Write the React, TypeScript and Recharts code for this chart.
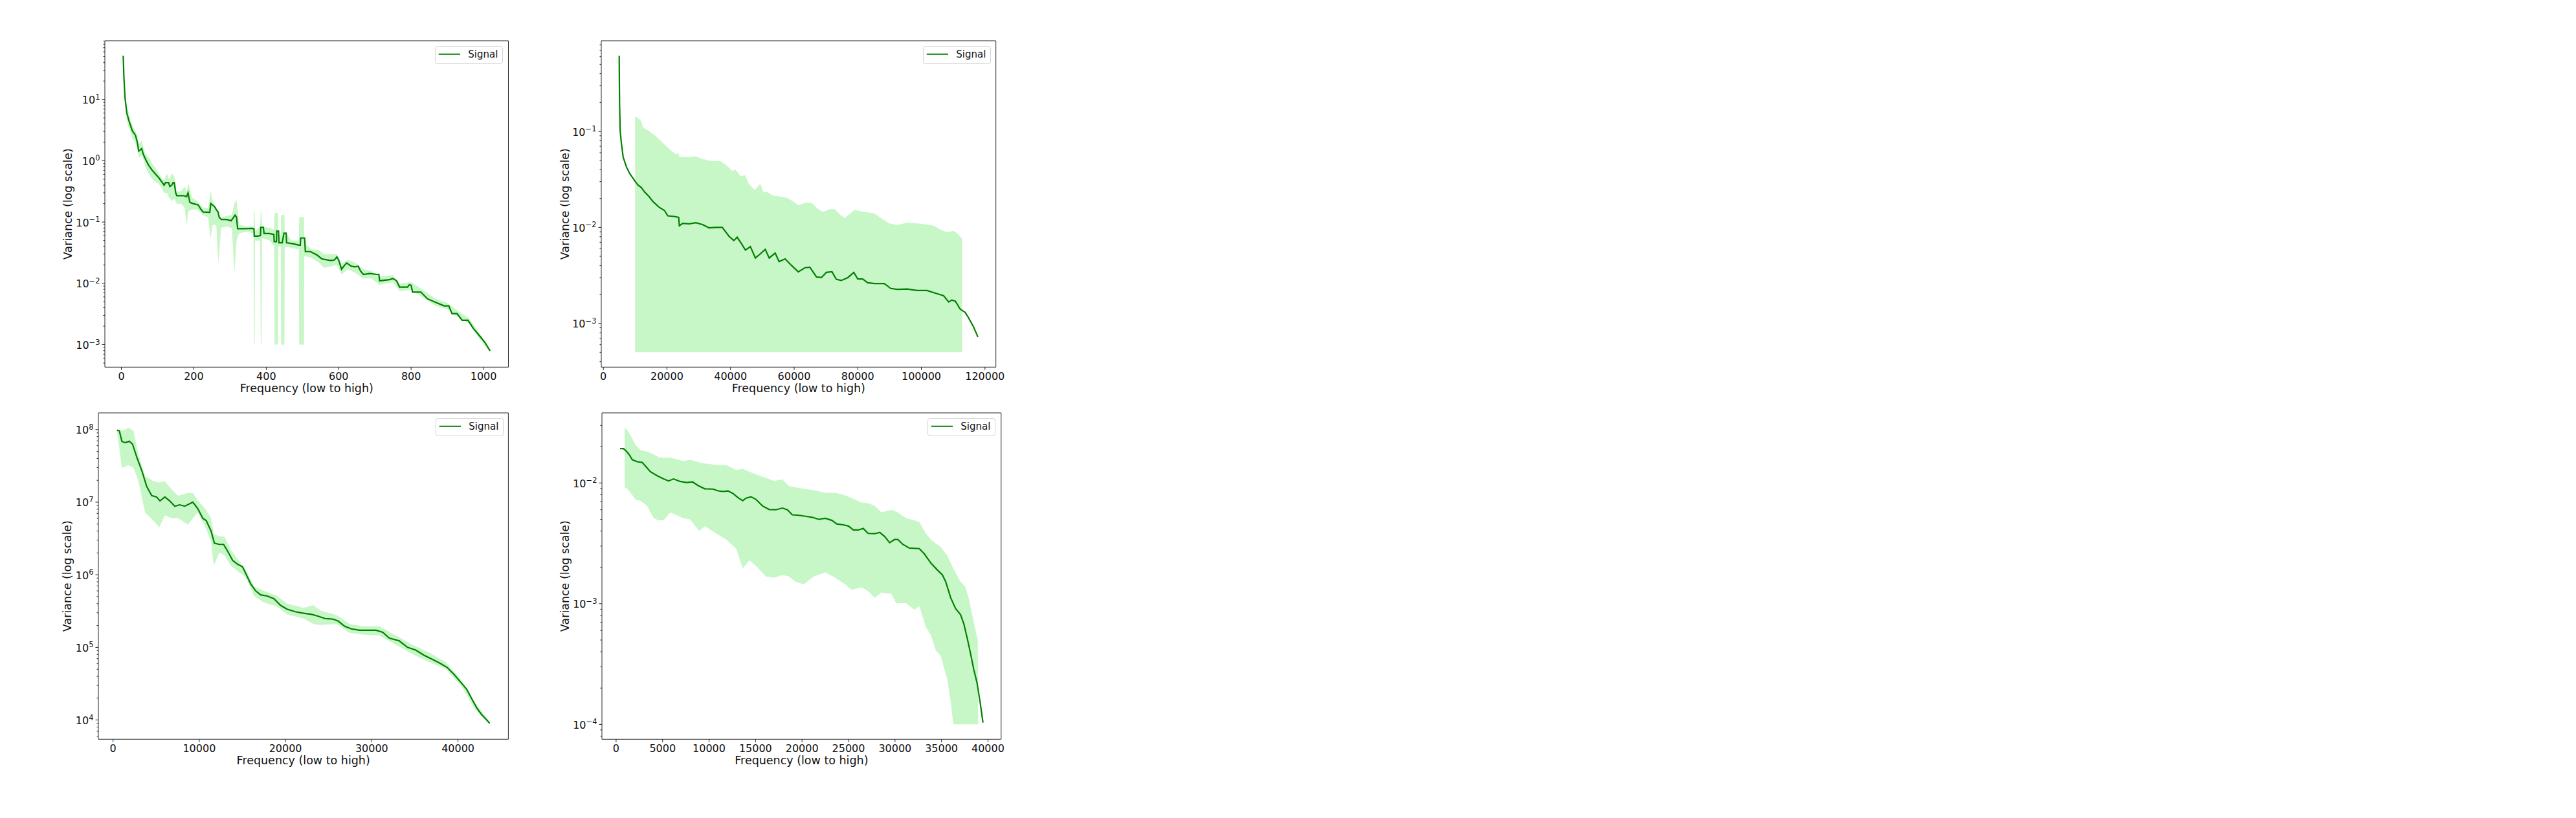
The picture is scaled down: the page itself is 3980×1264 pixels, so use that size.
import React from "react";
import { ComposedChart, Line, Area, XAxis, YAxis, Legend, ReferenceArea } from "recharts";

const FONT = '"DejaVu Sans", "Liberation Sans", sans-serif';
const INK = "#111";
const FRAME = "#222";
const GREEN = "#008000";
const BAND_FILL = "#90ee90";

// [frequency, variance]
const P1_SIGNAL: [number, number][] = [
  [5, 52], [7, 23], [10, 10.7], [15, 6.0], [21, 4.5], [30, 3.1], [39, 2.6], [44, 2.0], [48, 1.44], [52, 1.5],
  [56, 1.58], [60, 1.3], [66, 1.08], [75, 0.85], [85, 0.7], [95, 0.6], [103, 0.53], [112, 0.45], [118, 0.4], [122, 0.44],
  [130, 0.44], [134, 0.38], [139, 0.4], [143, 0.44], [146, 0.44], [150, 0.3], [153, 0.27], [171, 0.27], [180, 0.26], [184, 0.3],
  [189, 0.21], [198, 0.2], [212, 0.19], [220, 0.16], [226, 0.146], [244, 0.144], [247, 0.2], [252, 0.19], [258, 0.176], [262, 0.16],
  [267, 0.146], [270, 0.12], [276, 0.11], [290, 0.11], [303, 0.105], [310, 0.12], [314, 0.13], [318, 0.12], [321, 0.078], [340, 0.078],
  [360, 0.079], [366, 0.078], [367, 0.059], [376, 0.059], [384, 0.06], [385, 0.082], [392, 0.082], [394, 0.065], [408, 0.065], [421, 0.063],
  [422, 0.048], [428, 0.048], [429, 0.071], [434, 0.071], [435, 0.046], [444, 0.046], [449, 0.066], [455, 0.066], [456, 0.046], [476, 0.044],
  [490, 0.042], [494, 0.042], [495, 0.055], [506, 0.055], [508, 0.033], [522, 0.033], [540, 0.029], [554, 0.025], [577, 0.0236], [588, 0.024],
  [595, 0.027], [600, 0.024], [608, 0.017], [614, 0.019], [622, 0.0215], [635, 0.019], [645, 0.0186], [654, 0.019], [660, 0.016], [668, 0.014],
  [686, 0.0145], [704, 0.014], [711, 0.014], [713, 0.011], [740, 0.0115], [750, 0.012], [760, 0.011], [768, 0.0087], [790, 0.0087], [795, 0.0095],
  [800, 0.0093], [804, 0.0072], [827, 0.0072], [845, 0.0056], [868, 0.0049], [891, 0.0043], [904, 0.0043], [913, 0.0032], [927, 0.0032], [941, 0.0025],
  [957, 0.0025], [973, 0.0018], [991, 0.00135], [1005, 0.00106], [1018, 0.00079],
];
// [frequency, low, high]
const P1_BAND: [number, number, number][] = [
  [10, 9.5, 11.5], [15, 4.6, 7.5], [20, 3.5, 6.2], [25, 3.0, 4.5], [30, 2.3, 3.8], [39, 2.0, 3.1], [44, 1.5, 2.5], [48, 1.15, 1.9],
  [56, 1.2, 2.1], [62, 1.0, 1.6], [66, 0.82, 1.3], [75, 0.62, 1.15], [85, 0.5, 0.9], [95, 0.45, 0.75], [103, 0.42, 0.62], [112, 0.35, 0.52],
  [118, 0.3, 0.48], [125, 0.3, 0.62], [132, 0.25, 0.5], [140, 0.22, 0.62], [146, 0.24, 0.55], [153, 0.2, 0.31], [165, 0.2, 0.32], [175, 0.17, 0.38],
  [180, 0.09, 0.3], [185, 0.15, 0.43], [195, 0.16, 0.25], [210, 0.16, 0.22], [225, 0.13, 0.17], [240, 0.12, 0.17], [246, 0.053, 0.32], [252, 0.09, 0.22],
  [262, 0.09, 0.17], [268, 0.021, 0.14], [275, 0.08, 0.12], [290, 0.085, 0.125], [305, 0.08, 0.13], [312, 0.015, 0.2], [318, 0.05, 0.23], [325, 0.065, 0.09],
  [345, 0.07, 0.085], [365, 0.065, 0.085], [366, 0.001, 0.15], [368, 0.001, 0.15], [369, 0.05, 0.07], [383, 0.05, 0.085], [385, 0.001, 0.15], [387, 0.001, 0.15],
  [388, 0.055, 0.085], [410, 0.05, 0.08], [422, 0.04, 0.075], [423, 0.001, 0.14], [432, 0.001, 0.14], [433, 0.04, 0.065], [440, 0.04, 0.06], [441, 0.001, 0.13],
  [450, 0.001, 0.13], [451, 0.04, 0.07], [470, 0.038, 0.05], [490, 0.036, 0.05], [491, 0.001, 0.12], [504, 0.001, 0.12], [505, 0.028, 0.045], [525, 0.026, 0.036],
  [545, 0.022, 0.035], [560, 0.018, 0.03], [580, 0.019, 0.03], [595, 0.02, 0.03], [608, 0.014, 0.021], [625, 0.017, 0.024], [645, 0.015, 0.022], [668, 0.012, 0.017],
  [690, 0.012, 0.016], [713, 0.0095, 0.013], [750, 0.0105, 0.0135], [768, 0.0075, 0.0098], [800, 0.0078, 0.0105], [830, 0.006, 0.008], [868, 0.0043, 0.0056], [900, 0.0038, 0.0048],
  [930, 0.0028, 0.0035], [960, 0.0022, 0.0027], [990, 0.0012, 0.0015], [1018, 0.00075, 0.00085],
];

const P2_SIGNAL: [number, number][] = [
  [4990, 0.616], [5050, 0.3], [5100, 0.196], [5300, 0.1], [5710, 0.0736], [6230, 0.054], [7270, 0.0425], [8310, 0.0364], [9970, 0.0302], [10900, 0.0276],
  [11950, 0.026], [12990, 0.0233], [14340, 0.021], [15590, 0.0186], [17660, 0.0161], [19220, 0.015], [20260, 0.0132], [22340, 0.013], [23690, 0.0127], [23900, 0.0104],
  [24940, 0.011], [27010, 0.0109], [29090, 0.0112], [31170, 0.0107], [33250, 0.0099], [35330, 0.01], [37400, 0.01], [39490, 0.0081], [41040, 0.0073], [42080, 0.0079],
  [43640, 0.0066], [44680, 0.0058], [46240, 0.0063], [47800, 0.0048], [49350, 0.0053], [50910, 0.0059], [52160, 0.0048], [54030, 0.0054], [55270, 0.0044], [57150, 0.0047],
  [59220, 0.004], [61300, 0.00344], [63380, 0.0038], [64940, 0.00385], [67020, 0.00305], [68570, 0.003], [70130, 0.0034], [71900, 0.00345], [73250, 0.00288], [74810, 0.0028],
  [76890, 0.003], [78760, 0.0034], [80000, 0.0029], [81560, 0.0029], [83120, 0.00265], [85200, 0.0026], [88320, 0.0026], [90400, 0.00231], [92470, 0.00226], [95590, 0.00228],
  [98700, 0.0022], [101800, 0.0022], [104900, 0.00204], [107000, 0.00194], [108600, 0.00167], [109600, 0.00175], [110700, 0.0017], [112200, 0.00141], [113800, 0.0013], [114800, 0.00115],
  [116400, 0.00092], [117800, 0.00072],
];
const P2_BAND: [number, number, number][] = [
  [9970, 0.0005, 0.14], [10600, 0.0005, 0.14], [11950, 0.0005, 0.128], [12470, 0.0005, 0.11], [14550, 0.0005, 0.1], [16620, 0.0005, 0.0885],
  [18700, 0.0005, 0.076], [20780, 0.0005, 0.065], [22860, 0.0005, 0.0576], [23690, 0.0005, 0.059], [23900, 0.0005, 0.054], [27010, 0.0005, 0.054],
  [29090, 0.0005, 0.055], [31170, 0.0005, 0.0516], [34290, 0.0005, 0.049], [36880, 0.0005, 0.049], [38960, 0.0005, 0.0437], [40520, 0.0005, 0.0387],
  [41560, 0.0005, 0.04], [43120, 0.0005, 0.034], [44680, 0.0005, 0.035], [45720, 0.0005, 0.0285], [47590, 0.0005, 0.0245], [49350, 0.0005, 0.0285],
  [50390, 0.0005, 0.023], [51430, 0.0005, 0.0236], [52990, 0.0005, 0.0216], [55070, 0.0005, 0.021], [57660, 0.0005, 0.0204], [59740, 0.0005, 0.0186],
  [61300, 0.0005, 0.017], [63380, 0.0005, 0.018], [65460, 0.0005, 0.018], [67540, 0.0005, 0.0155], [69100, 0.0005, 0.0145], [71180, 0.0005, 0.0155],
  [72740, 0.0005, 0.0155], [74300, 0.0005, 0.0137], [75850, 0.0005, 0.0125], [77400, 0.0005, 0.0137], [78970, 0.0005, 0.0152], [82080, 0.0005, 0.0145],
  [85200, 0.0005, 0.014], [87280, 0.0005, 0.0125], [89870, 0.0005, 0.011], [92470, 0.0005, 0.0106], [95590, 0.0005, 0.0112], [98700, 0.0005, 0.011],
  [101800, 0.0005, 0.0107], [103900, 0.0005, 0.0104], [106000, 0.0005, 0.0095], [108100, 0.0005, 0.0089], [110100, 0.0005, 0.0092], [111200, 0.0005, 0.0087],
  [112800, 0.0005, 0.0076],
];

const P3_SIGNAL: [number, number][] = [
  [460, 9.8e7], [730, 9.6e7], [1030, 6.85e7], [1420, 6.6e7], [1875, 6.9e7], [2260, 6.3e7], [2760, 4.15e7], [3330, 2.73e7], [3900, 1.65e7], [4480, 1.23e7],
  [5050, 1.18e7], [5440, 1.04e7], [6010, 1.18e7], [6580, 1.04e7], [7160, 8.8e6], [7730, 9.2e6], [8310, 8.8e6], [9260, 1.0e7], [9840, 8.1e6], [10410, 6.0e6],
  [10800, 5.6e6], [11370, 4.0e6], [11750, 2.73e6], [12330, 2.62e6], [12820, 2.62e6], [13280, 2.12e6], [13860, 1.58e6], [14430, 1.4e6], [15010, 1.29e6], [15390, 1.04e6],
  [15960, 7.5e5], [16540, 6.0e5], [17110, 5.3e5], [17880, 5.1e5], [18640, 4.7e5], [19410, 3.8e5], [20170, 3.37e5], [21130, 3.1e5], [22090, 2.95e5], [23040, 2.85e5],
  [23620, 2.73e5], [24580, 2.5e5], [25530, 2.45e5], [26110, 2.3e5], [26870, 1.95e5], [27640, 1.8e5], [28600, 1.72e5], [29550, 1.72e5], [30510, 1.72e5], [31270, 1.62e5],
  [32040, 1.34e5], [33190, 1.23e5], [34150, 1.0e5], [35100, 9.2e4], [36060, 7.8e4], [37020, 6.85e4], [37970, 6.0e4], [38740, 5.3e4], [39500, 4.3e4], [40270, 3.37e4],
  [41040, 2.62e4], [41610, 1.95e4], [42190, 1.46e4], [42760, 1.18e4], [43330, 1.0e4], [43680, 9.0e3],
];
const P3_BAND: [number, number, number][] = [
  [460, 9.5e7, 1.0e8], [1030, 2.97e7, 9.6e7], [1800, 3.23e7, 1.06e8], [2370, 2.97e7, 9.6e7], [2950, 1.95e7, 4.5e7], [3710, 7.2e6, 2.3e7],
  [4670, 5.6e6, 1.95e7], [5360, 4.5e6, 1.87e7], [6010, 6.6e6, 1.95e7], [6780, 6.0e6, 1.5e7], [7540, 6.0e6, 1.23e7], [8690, 4.9e6, 1.34e7],
  [9260, 6.0e6, 1.34e7], [9840, 7.2e6, 1.05e7], [10800, 4.3e6, 7.8e6], [11370, 2.85e6, 6.0e6], [11680, 1.34e6, 3.66e6], [12330, 2.04e6, 3.37e6],
  [12900, 1.87e6, 3.37e6], [13670, 1.34e6, 2.2e6], [14430, 1.13e6, 1.65e6], [15390, 9.2e5, 1.18e6], [16350, 5.1e5, 6.9e5], [17490, 4.15e5, 6.0e5],
  [19020, 3.66e5, 5.1e5], [20170, 2.85e5, 4.0e5], [22090, 2.5e5, 3.5e5], [23240, 2.1e5, 3.8e5], [24000, 2.04e5, 3.24e5], [25920, 2.1e5, 2.78e5],
  [27450, 1.58e5, 2.1e5], [28980, 1.5e5, 1.95e5], [30890, 1.46e5, 1.95e5], [32810, 1.09e5, 1.46e5], [34720, 8.1e4, 1.09e5], [36630, 6.3e4, 8.5e4],
  [38550, 5.1e4, 6.3e4], [40460, 2.85e4, 3.5e4], [41990, 1.4e4, 1.72e4], [43680, 8.7e3, 9.4e3],
];

const P4_SIGNAL: [number, number][] = [
  [426, 0.0193], [781, 0.0193], [1029, 0.0186], [1384, 0.0173], [1739, 0.0156], [2271, 0.015], [2804, 0.0148], [3159, 0.0138], [3691, 0.0124], [4401, 0.0115],
  [5111, 0.0108], [5643, 0.0104], [6175, 0.0108], [6885, 0.0103], [7595, 0.0101], [8234, 0.0102], [8837, 0.0095], [9547, 0.00895], [10434, 0.0089], [10966, 0.0086],
  [11499, 0.0085], [12031, 0.0086], [12563, 0.0082], [13096, 0.00757], [13628, 0.00713], [13983, 0.0075], [14515, 0.00769], [15048, 0.0073], [15758, 0.00645], [16467, 0.00603],
  [17177, 0.006], [17887, 0.0062], [18419, 0.006], [18952, 0.00545], [19661, 0.0054], [20371, 0.0053], [21081, 0.0052], [21791, 0.005], [22501, 0.0051], [23210, 0.0049],
  [23743, 0.00458], [24453, 0.0045], [24985, 0.0044], [25517, 0.00408], [26050, 0.00408], [26582, 0.0042], [27114, 0.00382], [27824, 0.0038], [28357, 0.0039], [28889, 0.0036],
  [29421, 0.0032], [29954, 0.0034], [30309, 0.0034], [30841, 0.0031], [31551, 0.00289], [32615, 0.00286], [33148, 0.00259], [33857, 0.00217], [34567, 0.0019], [35100, 0.00173],
  [35455, 0.00152], [35987, 0.00112], [36519, 0.00091], [37052, 0.00081], [37406, 0.00068], [37761, 0.00052], [38116, 0.00039], [38471, 0.000285], [38826, 0.000221], [39181, 0.000148],
  [39465, 0.0001035],
];
const P4_BAND: [number, number, number][] = [
  [923, 0.0092, 0.0287], [1207, 0.00895, 0.0273], [1562, 0.0083, 0.0247], [2094, 0.0073, 0.0207], [2626, 0.0071, 0.0187], [3336, 0.00645, 0.0182],
  [4046, 0.0051, 0.0173], [4578, 0.0049, 0.0163], [5111, 0.0049, 0.0162], [5820, 0.0057, 0.0162], [7240, 0.0051, 0.0152], [7950, 0.005, 0.0156],
  [8943, 0.004, 0.0148], [9547, 0.0044, 0.0145], [10789, 0.0038, 0.0141], [11854, 0.0034, 0.0141], [12918, 0.00286, 0.0128], [13628, 0.00196, 0.0131],
  [14338, 0.00228, 0.0124], [15048, 0.00206, 0.0118], [16112, 0.00168, 0.011], [17000, 0.00164, 0.0104], [17887, 0.00173, 0.0107], [18597, 0.00168, 0.0094],
  [19307, 0.00152, 0.0092], [20194, 0.00145, 0.00895], [21259, 0.00168, 0.0087], [22501, 0.00182, 0.0083], [23566, 0.00164, 0.0083], [24630, 0.00145, 0.0079],
  [25340, 0.0013, 0.0075], [26405, 0.00137, 0.0069], [27114, 0.00127, 0.0068], [27824, 0.00112, 0.00645], [28534, 0.00124, 0.0057], [29599, 0.00121, 0.006],
  [30131, 0.00101, 0.0058], [31196, 0.00101, 0.0051], [32083, 0.00089, 0.0049], [32615, 0.00096, 0.00475], [33325, 0.00064, 0.0038], [33857, 0.00055, 0.0034],
  [34390, 0.00041, 0.00316], [34922, 0.00037, 0.00294], [35632, 0.000233, 0.0025], [35987, 0.000155, 0.00217], [36271, 0.0001, 0.00196], [37052, 0.0001, 0.00152],
  [37584, 0.0001, 0.00137], [37939, 0.0001, 0.0011], [38471, 0.0001, 0.0007], [38900, 0.0001, 0.0005], [38950, 0.0001, 0.0001],
];

const P1_X_TICKS = [0, 200, 400, 600, 800, 1000];
const P2_X_TICKS = [0, 20000, 40000, 60000, 80000, 100000, 120000];
const P3_X_TICKS = [0, 10000, 20000, 30000, 40000];
const P4_X_TICKS = [0, 5000, 10000, 15000, 20000, 25000, 30000, 35000, 40000];

const X_LABEL = "Frequency (low to high)";
const Y_LABEL = "Variance (log scale)";
const LEGEND_LABEL = "Signal";

// room around each plot area
const Y_AXIS_W = 100;
const TOP_PAD = 10;
const RIGHT_PAD = 60;
const X_AXIS_H = 60;

type Panel = {
  left: number;
  top: number;
  w: number;
  h: number;
  signal: [number, number][];
  band: [number, number, number][];
  xTicks: number[];
  yLabelGap: number;
};

const PANELS: Panel[] = [
  { left: 161.5, top: 62.7, w: 623.5, h: 504.3, signal: P1_SIGNAL, band: P1_BAND, xTicks: P1_X_TICKS, yLabelGap: 51 },
  { left: 929, top: 62.7, w: 609.7, h: 504.3, signal: P2_SIGNAL, band: P2_BAND, xTicks: P2_X_TICKS, yLabelGap: 50.4 },
  { left: 152.3, top: 637.7, w: 633.4, h: 504.3, signal: P3_SIGNAL, band: P3_BAND, xTicks: P3_X_TICKS, yLabelGap: 42.3 },
  { left: 929.6, top: 637.7, w: 616.8, h: 504.3, signal: P4_SIGNAL, band: P4_BAND, xTicks: P4_X_TICKS, yLabelGap: 51 },
];

// matplotlib-style 5% margins
const linearDomain = (xs: number[]): [number, number] => {
  const lo = Math.min(...xs);
  const hi = Math.max(...xs);
  const pad = (hi - lo) * 0.05;
  return [lo - pad, hi + pad];
};
const logDomain = (vs: number[]): [number, number] => {
  const ls = vs.map((v) => Math.log10(v));
  const lo = Math.min(...ls);
  const hi = Math.max(...ls);
  const pad = (hi - lo) * 0.05;
  return [Math.pow(10, lo - pad), Math.pow(10, hi + pad)];
};
const logTicks = ([lo, hi]: [number, number]) => {
  const out: number[] = [];
  for (let e = Math.floor(Math.log10(lo)); e <= Math.ceil(Math.log10(hi)); e++) {
    for (let k = 1; k <= 9; k++) {
      const v = Number((k * Math.pow(10, e)).toPrecision(6));
      if (v >= lo && v <= hi) out.push(v);
    }
  }
  return out;
};

const YTick = (props: any) => {
  const { x, y, payload } = props;
  const v = payload.value;
  const e = Math.floor(Math.log10(v) + 1e-9);
  const major = Math.abs(v / Math.pow(10, e) - 1) < 1e-6;
  return (
    <g>
      <line x1={x - (major ? 4.5 : 2.5)} x2={x} y1={y} y2={y} stroke={FRAME} strokeWidth={1} />
      {major && (
        <text x={x - 7.5} y={y + 6.5} textAnchor="end" fontFamily={FONT} fontSize={16} fill={INK}>
          10
          <tspan dy={-6.5} fontSize={11.5}>
            {e < 0 ? `\u2212${-e}` : `${e}`}
          </tspan>
        </text>
      )}
    </g>
  );
};

const XTick = (props: any) => {
  const { x, y, payload } = props;
  return (
    <g>
      <line x1={x} x2={x} y1={y} y2={y + 4.5} stroke={FRAME} strokeWidth={1} />
      <text x={x} y={y + 19.7} textAnchor="middle" fontFamily={FONT} fontSize={16} fill={INK}>
        {payload.value}
      </text>
    </g>
  );
};

const SignalLegend = () => (
  <div
    style={{
      boxSizing: "border-box",
      width: 105,
      height: 28,
      border: "1px solid #d4d4d4",
      borderRadius: 4,
      background: "rgba(255,255,255,0.8)",
      position: "relative",
    }}
  >
    <svg width={103} height={26} style={{ position: "absolute", left: 0, top: 0 }}>
      <line x1={4.7} x2={38} y1={11.7} y2={11.7} stroke={GREEN} strokeWidth={2} />
      <text x={50.3} y={17.3} fontFamily={FONT} fontSize={15} fill={INK}>
        {LEGEND_LABEL}
      </text>
    </svg>
  </div>
);

function PanelChart({ p }: { p: Panel }) {
  const lineData = p.signal.map(([x, y]) => ({ x, y }));
  const bandData = p.band.map(([x, lo, hi]) => ({ x, range: [lo, hi] }));
  const xDom = linearDomain([...p.signal.map((d) => d[0]), ...p.band.map((d) => d[0])]);
  const yDom = logDomain([...p.signal.map((d) => d[1]), ...p.band.flatMap((d) => [d[1], d[2]])]);
  const yTicks = logTicks(yDom);
  const width = Y_AXIS_W + p.w + RIGHT_PAD;
  const height = TOP_PAD + p.h + X_AXIS_H;
  const yLabelX = Y_AXIS_W - p.yLabelGap;
  const yLabelY = TOP_PAD + p.h / 2;

  return (
    <div style={{ position: "absolute", left: p.left - Y_AXIS_W, top: p.top - TOP_PAD }}>
      <ComposedChart width={width} height={height} margin={{ top: TOP_PAD, right: RIGHT_PAD, bottom: 0, left: 0 }}>
        <XAxis
          type="number"
          dataKey="x"
          domain={xDom}
          allowDataOverflow
          ticks={p.xTicks}
          interval={0}
          tick={<XTick />}
          tickSize={0}
          tickMargin={0}
          tickLine={false}
          axisLine={false}
          height={X_AXIS_H}
          label={() => (
            <text x={Y_AXIS_W + p.w / 2} y={TOP_PAD + p.h + 39} textAnchor="middle" fontFamily={FONT} fontSize={17.5} fill={INK}>
              {X_LABEL}
            </text>
          )}
        />
        <YAxis
          type="number"
          scale="log"
          domain={yDom}
          allowDataOverflow
          ticks={yTicks}
          interval={0}
          tick={<YTick />}
          tickSize={0}
          tickMargin={0}
          tickLine={false}
          axisLine={false}
          width={Y_AXIS_W}
          label={() => (
            <text
              x={yLabelX}
              y={yLabelY}
              transform={`rotate(-90, ${yLabelX}, ${yLabelY})`}
              textAnchor="middle"
              fontFamily={FONT}
              fontSize={17.5}
              fill={INK}
            >
              {Y_LABEL}
            </text>
          )}
        />
        <Area
          data={bandData}
          dataKey="range"
          type="linear"
          stroke="none"
          fill={BAND_FILL}
          fillOpacity={0.5}
          isAnimationActive={false}
          legendType="none"
        />
        <Line
          data={lineData}
          dataKey="y"
          name={LEGEND_LABEL}
          type="linear"
          stroke={GREEN}
          strokeWidth={2.2}
          dot={false}
          isAnimationActive={false}
        />
        <ReferenceArea
          x1={xDom[0]}
          x2={xDom[1]}
          y1={yDom[0]}
          y2={yDom[1]}
          fill="none"
          stroke={FRAME}
          strokeWidth={1}
          ifOverflow="visible"
        />
        <Legend
          layout="horizontal"
          align="center"
          verticalAlign="middle"
          content={() => <SignalLegend />}
          wrapperStyle={{ top: TOP_PAD + 8, left: Y_AXIS_W + p.w - 8 - 105, width: 105, height: 28, margin: 0, padding: 0 }}
        />
      </ComposedChart>
    </div>
  );
}

export default function App() {
  return (
    <div style={{ position: "absolute", left: 0, top: 0, width: 3980, height: 1264, background: "#fff" }}>
      {PANELS.map((p, i) => (
        <PanelChart key={i} p={p} />
      ))}
    </div>
  );
}
